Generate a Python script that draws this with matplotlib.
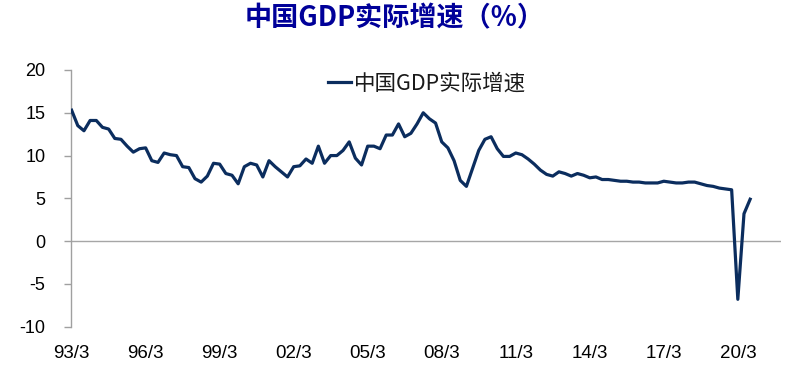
import matplotlib
matplotlib.use("Agg")
import matplotlib.pyplot as plt

plt.rcParams['font.family'] = ['Liberation Sans', 'Noto Sans CJK SC', 'DejaVu Sans']

# Quarterly data 1993Q1 .. 2020Q3
gdp_growth = [
    15.3, 13.5, 12.9, 14.1,   # 1993
    14.1, 13.3, 13.1, 12.0,   # 1994
    11.9, 11.1, 10.4, 10.8,   # 1995
    10.9, 9.4, 9.2, 10.3,     # 1996
    10.1, 10.0, 8.7, 8.6,     # 1997
    7.3, 6.9, 7.6, 9.1,       # 1998
    9.0, 7.9, 7.7, 6.7,       # 1999
    8.7, 9.1, 8.9, 7.5,       # 2000
    9.4, 8.7, 8.1, 7.5,       # 2001
    8.7, 8.8, 9.6, 9.1,       # 2002
    11.1, 9.1, 10.0, 10.0,    # 2003
    10.6, 11.6, 9.7, 8.9,     # 2004
    11.1, 11.1, 10.8, 12.4,   # 2005
    12.4, 13.7, 12.2, 12.6,   # 2006
    13.7, 15.0, 14.3, 13.8,   # 2007
    11.6, 10.9, 9.4, 7.1,     # 2008
    6.4, 8.5, 10.6, 11.9,     # 2009
    12.2, 10.8, 9.9, 9.9,     # 2010
    10.3, 10.1, 9.6, 9.0,     # 2011
    8.3, 7.8, 7.6, 8.1,       # 2012
    7.9, 7.6, 7.9, 7.7,       # 2013
    7.4, 7.5, 7.2, 7.2,       # 2014
    7.1, 7.0, 7.0, 6.9,       # 2015
    6.9, 6.8, 6.8, 6.8,       # 2016
    7.0, 6.9, 6.8, 6.8,       # 2017
    6.9, 6.9, 6.7, 6.5,       # 2018
    6.4, 6.2, 6.1, 6.0,       # 2019
    -6.8, 3.2, 4.9,           # 2020
]
tick_labels = ["93/3", "96/3", "99/3", "02/3", "05/3", "08/3", "11/3", "14/3", "17/3", "20/3"]
y_ticks = [-10, -5, 0, 5, 10, 15, 20]
series_name = "中国GDP实际增速"
title = "中国GDP实际增速（%）"

W, H = 790, 368
fig = plt.figure(figsize=(W / 100, H / 100), dpi=100)
left, right = 71 / W, 781 / W
bottom, top = 1 - 326.7 / H, 1 - 70 / H
ax = fig.add_axes([left, bottom, right - left, top - bottom])

x = list(range(len(gdp_growth)))
line_color = "#0b2d5e"
ax.plot(x, gdp_growth, color=line_color, lw=2.3, solid_joinstyle='round', zorder=3, label=series_name)
ax.axhline(0, color="#a6a6a6", lw=1.0, zorder=1)

ax.set_xlim(-0.1, 115)
ax.set_ylim(-10, 20)

for s in ["top", "right", "bottom"]:
    ax.spines[s].set_visible(False)
ax.spines["left"].set_color("#a0a0a0")
ax.spines["left"].set_linewidth(1.0)

ax.set_yticks(y_ticks)
ax.set_yticklabels([str(v) for v in y_ticks])
ax.tick_params(axis='y', direction='out', length=5, width=1.0, color="#a0a0a0",
               pad=13.5, labelsize=13, labelcolor="black")

ax.set_xticks([12 * i for i in range(len(tick_labels))])
ax.set_xticklabels(tick_labels)
ax.tick_params(axis='x', length=0, pad=13, labelsize=13.5, labelcolor="black")

fig.text(0.5, 1 - 18 / H, title, ha='center', va='center', fontsize=19.5, fontweight='bold',
         color="#000099", family=['Noto Sans CJK SC', 'DejaVu Sans'])

leg = fig.legend(loc='center left', bbox_to_anchor=(328 / W, 1 - 84 / H),
                 bbox_transform=fig.transFigure, frameon=False,
                 prop={'family': ['Noto Sans CJK SC', 'DejaVu Sans'], 'size': 15.5},
                 handlelength=1.05, handletextpad=0.15, borderpad=0, borderaxespad=0)
for t in leg.get_texts():
    t.set_color("#1a1a1a")

fig.savefig("out.png", dpi=100)
